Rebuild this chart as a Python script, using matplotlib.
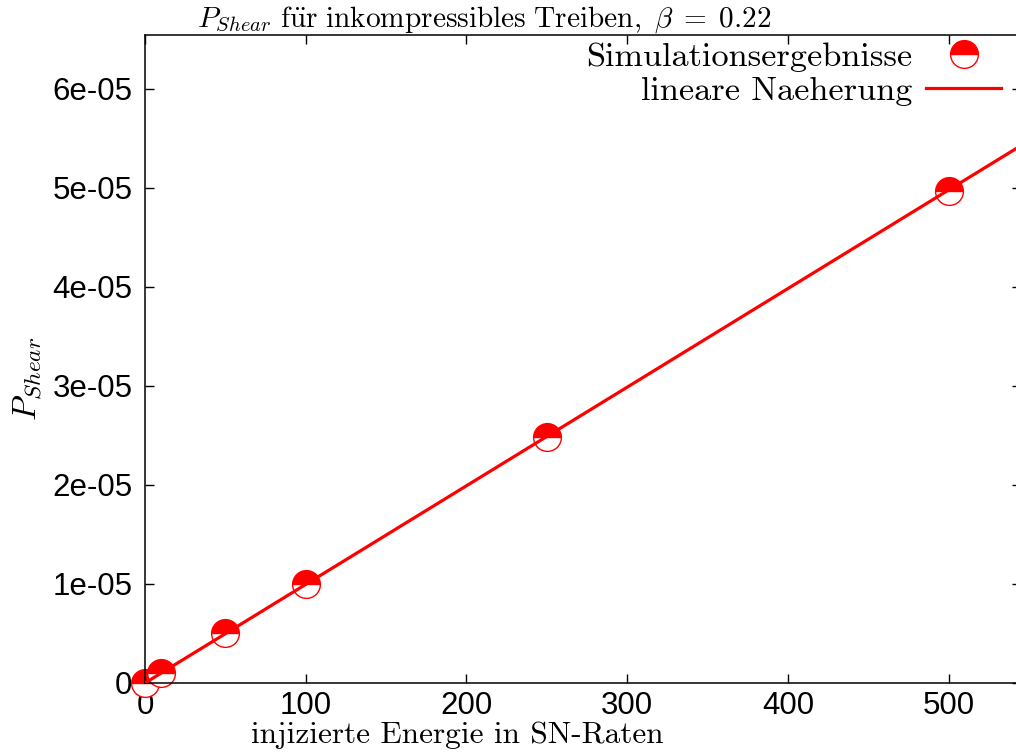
import matplotlib
matplotlib.use("Agg")
import matplotlib.pyplot as plt
import numpy as np

# data
energie = [0, 10, 50, 100, 250, 500]
p_shear = [0.0, 1.0e-6, 5.0e-6, 1.0e-5, 2.48e-5, 4.97e-5]
fit_slope = 9.96e-8
xticks = [0, 100, 200, 300, 400, 500]
xtick_labels = ["0", "100", "200", "300", "400", "500"]
yticks = [0, 1e-5, 2e-5, 3e-5, 4e-5, 5e-5, 6e-5]
ytick_labels = ["0", "1e-05", "2e-05", "3e-05", "4e-05", "5e-05", "6e-05"]

plt.rcParams['mathtext.fontset'] = 'cm'
plt.rcParams['axes.unicode_minus'] = False

W, H = 1016, 753
fig = plt.figure(figsize=(W / 100, H / 100), dpi=100)
left, right, bottom, top = 145, 1021, 683, 35
ax = fig.add_axes([left / W, (H - bottom) / H, (right - left) / W, (bottom - top) / H])

xmin, xmax = 0, 545
ymin, ymax = 0, 6.545e-5
ax.set_xlim(xmin, xmax)
ax.set_ylim(ymin, ymax)

xl = np.array([xmin, xmax])
ax.plot(xl, fit_slope * xl, color='#ff0000', lw=2.3, zorder=3, label='lineare Naeherung')
ax.plot(energie, p_shear, linestyle='none', marker='o', markersize=20,
        fillstyle='top', markerfacecolor='#ff0000', markerfacecoloralt='white',
        markeredgecolor='#ff0000', markeredgewidth=1.0, clip_on=False, zorder=2,
        label='Simulationsergebnisse')

ax.set_xticks(xticks)
ax.set_xticklabels(xtick_labels)
ax.set_yticks(yticks)
ax.set_yticklabels(ytick_labels)
ax.tick_params(direction='in', length=6.5, width=1.0, top=True, right=True,
               labelsize=22.5)
ax.tick_params(axis='x', pad=6)
ax.tick_params(axis='y', pad=9)
for lab in ax.get_xticklabels() + ax.get_yticklabels():
    lab.set_family('Liberation Sans')
for s in ax.spines.values():
    s.set_linewidth(1.1)

handles, labels = ax.get_legend_handles_labels()
leg = ax.legend(handles[::-1], labels[::-1], loc='upper right',
                bbox_to_anchor=(1001 / W, (H - 42) / H), bbox_transform=fig.transFigure,
                frameon=False, markerfirst=False, prop={'family': 'cmr10', 'size': 24.7},
                handlelength=2.18, handletextpad=0.4, labelspacing=0.12,
                borderaxespad=0, borderpad=0, numpoints=1)

fig.text(484 / W, 1 - 27 / H,
         r'$P_{Shear}\ \mathrm{f\ddot{u}r\ inkompressibles\ Treiben,}\ \beta\;=\;0.22$',
         ha='center', va='baseline', fontsize=21.1)
fig.text(457 / W, 1 - 743 / H, 'injizierte Energie in SN-Raten',
         ha='center', va='baseline', fontsize=22.5, family='cmr10')
fig.text(27 / W, 1 - 379 / H, r'$P_{Shear}$', ha='center', va='center',
         rotation=90, fontsize=24)

fig.savefig('out.png', dpi=100)
